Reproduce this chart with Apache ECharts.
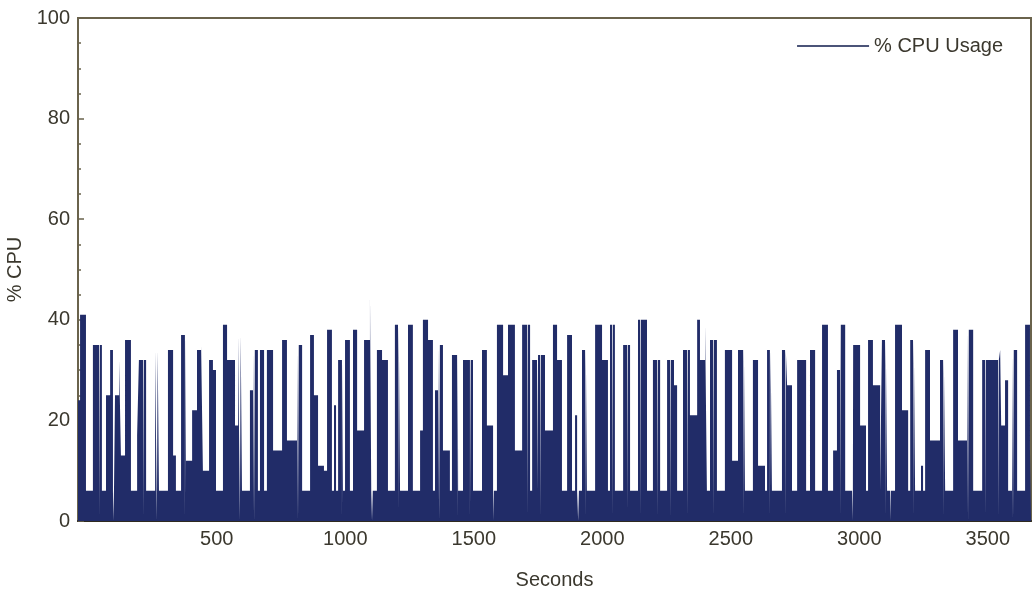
<!DOCTYPE html>
<html><head><meta charset="utf-8">
<script src="https://cdn.jsdelivr.net/npm/echarts@6/dist/echarts.min.js"></script>
<style>html,body{margin:0;padding:0;background:#fff}#c{width:1033px;height:597px}</style>
</head><body><div id="c"></div>
<script>
const seriesName = '% CPU Usage';
const xAxisName = 'Seconds';
const yAxisName = '% CPU';
// time (s) at which each level starts; level holds until the next time
const seconds = [-40,-32,-9,18,53,69,85,96,104,120,127,143,166,190,197,225,260,275,310,330,341,361,380,404,423,439,446,470,485,497,524,540,571,583,598,629,641,660,668,684,695,719,754,773,812,832,863,878,894,917,929,948,956,964,972,991,999,1018,1030,1046,1073,1096,1101,1123,1143,1166,1193,1213,1244,1263,1291,1302,1322,1341,1349,1361,1380,1407,1415,1439,1458,1497,1532,1551,1575,1590,1614,1633,1660,1688,1719,1727,1746,1750,1777,1808,1824,1843,1863,1882,1894,1902,1921,1940,1972,1999,2022,2030,2049,2081,2108,2139,2174,2197,2225,2252,2279,2291,2314,2341,2369,2380,2400,2407,2419,2446,2477,2505,2528,2555,2586,2606,2633,2641,2660,2699,2719,2738,2758,2793,2808,2828,2855,2878,2898,2913,2925,2945,2976,3003,3026,3034,3053,3081,3088,3108,3139,3166,3190,3198,3217,3240,3248,3256,3275,3314,3334,3365,3384,3419,3443,3478,3548,3552,3567,3579,3594,3614,3645,3664,3668];
const cpuPercent = [24,41,6,35,6,25,34,6,25,32,13,36,6,17,32,6,34,6,34,13,6,37,12,22,34,35,10,32,30,6,39,32,19,37,6,26,34,6,34,6,34,14,36,16,35,6,37,25,11,10,38,6,23,6,32,6,36,6,38,18,36,45,6,34,32,6,39,6,39,6,18,40,36,6,26,35,14,6,33,6,32,6,34,19,6,39,29,39,14,39,6,32,6,33,18,39,32,6,37,6,21,6,34,6,39,32,6,39,6,35,6,40,6,32,6,32,27,6,34,21,40,32,39,6,36,6,34,12,34,6,32,11,6,34,6,34,27,6,32,6,34,6,39,6,14,30,39,6,35,19,6,36,27,6,36,6,39,22,6,36,6,11,6,34,16,32,6,38,16,38,6,32,34,19,28,6,34,6,39,14,14];
// brief one-sample drops to 0 % (the pale lines in the dark band)
const dipSeconds = [42,97,213,267,376,590,645,816,987,1104,1205,1365,1435,1485,1575,1707,1758,1906,1933,2038,2096,2147,2213,2264,2330,2431,2548,2652,2711,2925,2972,3100,3120,3209,3326,3423,3489,3540,3598];
const dipDuration = 3;
const xLabelValues = [500,1000,1500,2000,2500,3000,3500];
const xRange = [-40, 3668];
const yRange = [0, 100];
const yStep = 20;

function levelAt(t) {
  let v = cpuPercent[0];
  for (let i = 0; i < seconds.length; i++) { if (seconds[i] <= t) v = cpuPercent[i]; else break; }
  return v;
}
const points = seconds.map((t, i) => [t, cpuPercent[i]]);
dipSeconds.forEach(t => { points.push([t, 0]); points.push([t + dipDuration, levelAt(t + dipDuration)]); });
points.sort((a, b) => a[0] - b[0]);

const chart = echarts.init(document.getElementById('c'), null, {renderer: 'canvas'});
const FONT = 'Liberation Sans, Arial, Helvetica, sans-serif';
const textColor = '#3b382e';
const frameColor = '#6a634c';
chart.setOption({
  animation: false,
  backgroundColor: '#ffffff',
  textStyle: {fontFamily: FONT},
  grid: {left: 78, right: 2, top: 18, bottom: 76, show: true, borderColor: frameColor, borderWidth: 2, containLabel: false, outerBoundsMode: 'none'},
  legend: {
    show: true, right: 25, top: 31, icon: 'rect', itemWidth: 72, itemHeight: 2, itemGap: 11,
    textStyle: {fontSize: 20, color: textColor, fontFamily: FONT},
    data: [{name: seriesName, itemStyle: {color: '#4b5478'}}]
  },
  xAxis: {
    type: 'value', min: xRange[0], max: xRange[1],
    name: xAxisName, nameLocation: 'middle', nameGap: 49,
    nameTextStyle: {fontSize: 20, color: textColor, fontFamily: FONT},
    axisLine: {show: true, onZero: false, lineStyle: {color: '#2e2a20', width: 2}},
    axisTick: {show: false},
    splitLine: {show: false},
    axisLabel: {customValues: xLabelValues, formatter: v => String(v), fontSize: 20, color: textColor, margin: 8, fontFamily: FONT}
  },
  yAxis: {
    type: 'value', min: yRange[0], max: yRange[1], interval: yStep,
    name: yAxisName, nameLocation: 'middle', nameGap: 47, nameRotate: 90,
    nameTextStyle: {fontSize: 20, color: textColor, fontFamily: FONT},
    axisLine: {show: true, onZero: false, lineStyle: {color: frameColor, width: 2}},
    axisTick: {show: true, inside: true, length: 6, lineStyle: {color: frameColor, width: 1.5}},
    minorTick: {show: true, splitNumber: 4, length: 3, lineStyle: {color: frameColor, width: 1.5}},
    splitLine: {show: false},
    axisLabel: {fontSize: 20, color: textColor, margin: 8, fontFamily: FONT}
  },
  series: [{
    name: seriesName, type: 'line', step: 'end', data: points,
    showSymbol: false, symbol: 'none',
    lineStyle: {color: '#1a2150', width: 1, opacity: 0},
    itemStyle: {color: '#4b5478'},
    areaStyle: {color: '#212c68', opacity: 1},
    z: 1
  }]
});
</script>
</body></html>
